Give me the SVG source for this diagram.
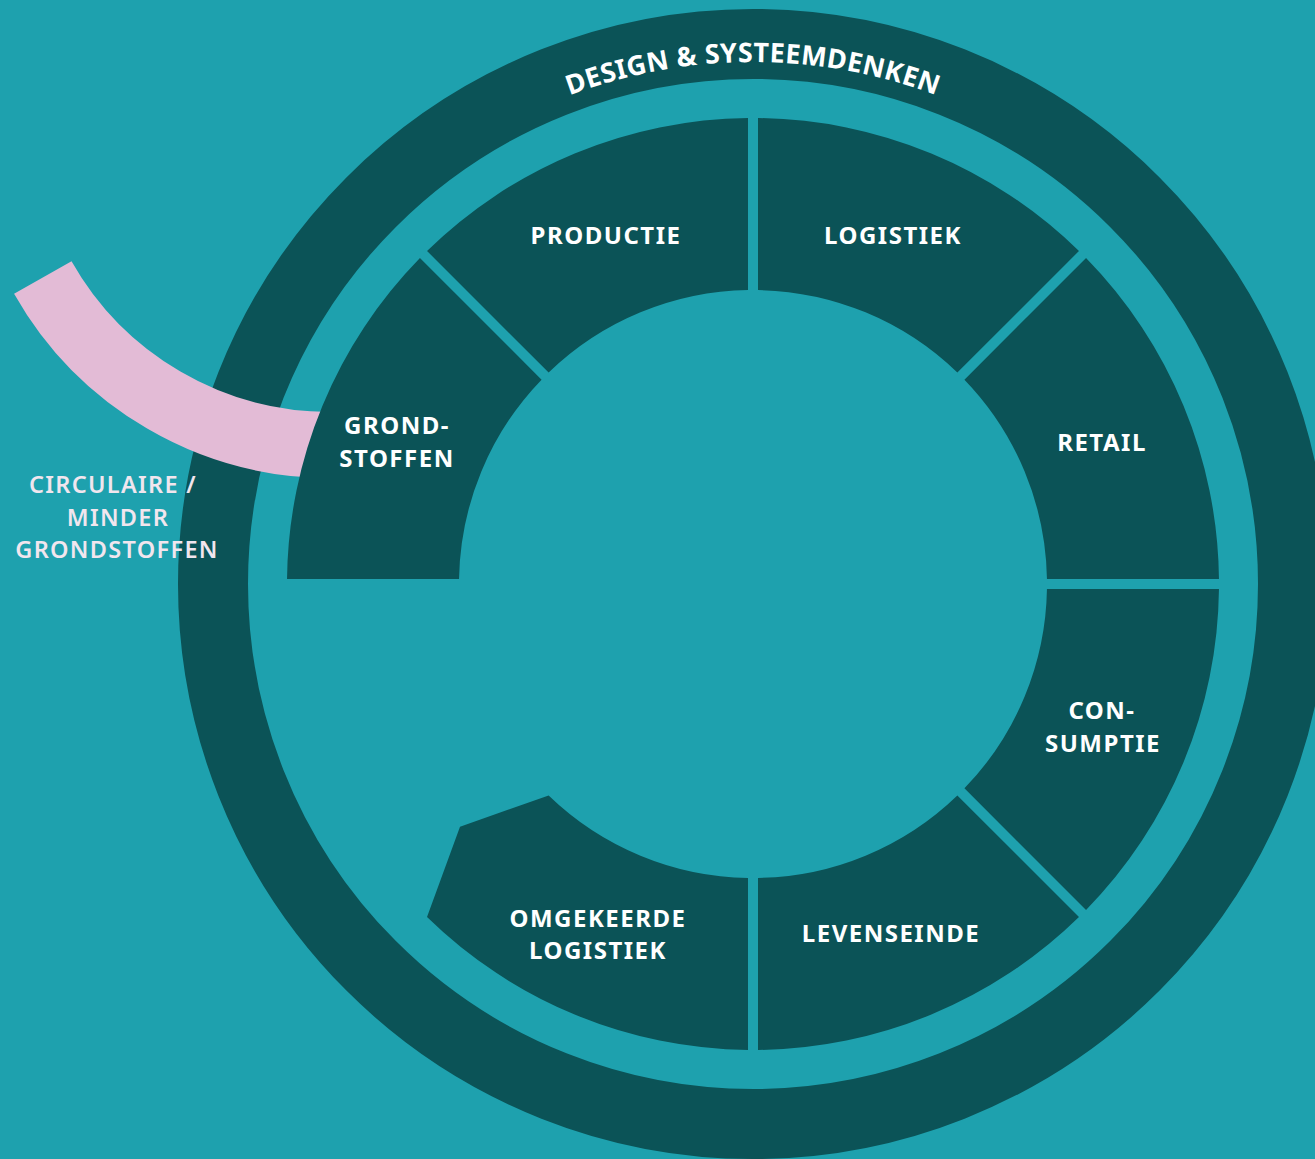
<svg xmlns="http://www.w3.org/2000/svg" width="1315" height="1159" viewBox="0 0 1315 1159">
  <defs>
    <style>
      .seg { fill: #0b5357; }
      .lbl { font-family: "Noto Sans", "Open Sans", sans-serif; font-weight: 700; font-size: 24px; fill: #ffffff; text-anchor: middle; letter-spacing: 1.5px; }
      .side { font-family: "Noto Sans", "Open Sans", sans-serif; font-weight: 600; font-size: 23.5px; fill: #f1e6ee; text-anchor: middle; letter-spacing: 1.3px; }
      .ring { font-family: "Noto Sans", "Open Sans", sans-serif; font-weight: 700; font-size: 27px; fill: #ffffff; letter-spacing: 0.4px; }
    </style>
    <path id="ringPath" d="M231,584 A522,522 0 0 1 1275,584"/>
  </defs>
  <rect width="1315" height="1159" fill="#1ea1ae"/>

  <g id="design-ring">
    <circle cx="753" cy="584" r="540" fill="none" stroke="#0b5357" stroke-width="70"/>
    <text class="ring"><textPath href="#ringPath" startOffset="50%" text-anchor="middle">DESIGN &amp; SYSTEEMDENKEN</textPath></text>
  </g>

  <g id="circulaire">
    <path d="M42.8,277.5 A330,330 0 0 0 330,445" fill="none" stroke="#e3bbd6" stroke-width="66"/>
    <text class="side"><tspan x="113" y="493">CIRCULAIRE /</tspan><tspan x="118" y="526">MINDER</tspan><tspan x="117" y="558">GRONDSTOFFEN</tspan></text>
  </g>

  <g id="grondstoffen">
    <path class="seg" d="M287.03,579 A466,466 0 0 1 419.96,258.03 L541.57,379.65 A294,294 0 0 0 459.04,579 Z"/>
    <text class="lbl"><tspan x="397" y="434">GROND-</tspan><tspan x="397" y="467">STOFFEN</tspan></text>
  </g>
  <g id="productie">
    <path class="seg" d="M427.03,250.96 A466,466 0 0 1 748,118.03 L748,290.04 A294,294 0 0 0 548.64,372.58 Z"/>
    <text class="lbl" x="606" y="244">PRODUCTIE</text>
  </g>
  <g id="logistiek">
    <path class="seg" d="M758,118.03 A466,466 0 0 1 1078.97,250.96 L957.36,372.58 A294,294 0 0 0 758,290.04 Z"/>
    <text class="lbl" x="893" y="244">LOGISTIEK</text>
  </g>
  <g id="retail">
    <path class="seg" d="M1086.04,258.03 A466,466 0 0 1 1218.97,579 L1046.96,579 A294,294 0 0 0 964.43,379.65 Z"/>
    <text class="lbl" x="1102" y="451">RETAIL</text>
  </g>
  <g id="consumptie">
    <path class="seg" d="M1218.97,589 A466,466 0 0 1 1086.04,909.97 L964.43,788.36 A294,294 0 0 0 1046.96,589 Z"/>
    <text class="lbl"><tspan x="1102" y="719">CON-</tspan><tspan x="1103" y="752">SUMPTIE</tspan></text>
  </g>
  <g id="levenseinde">
    <path class="seg" d="M1078.97,917.04 A466,466 0 0 1 758,1049.97 L758,877.96 A294,294 0 0 0 957.36,795.43 Z"/>
    <text class="lbl" x="891" y="942">LEVENSEINDE</text>
  </g>
  <g id="omgekeerde-logistiek">
    <path class="seg" d="M748,1049.97 A466,466 0 0 1 427.03,917.04 L460,826.7 L548.64,795.43 A294,294 0 0 0 748,877.96 Z"/>
    <text class="lbl"><tspan x="598" y="927">OMGEKEERDE</tspan><tspan x="598" y="959">LOGISTIEK</tspan></text>
  </g>
  <g id="connectors"/>
</svg>
